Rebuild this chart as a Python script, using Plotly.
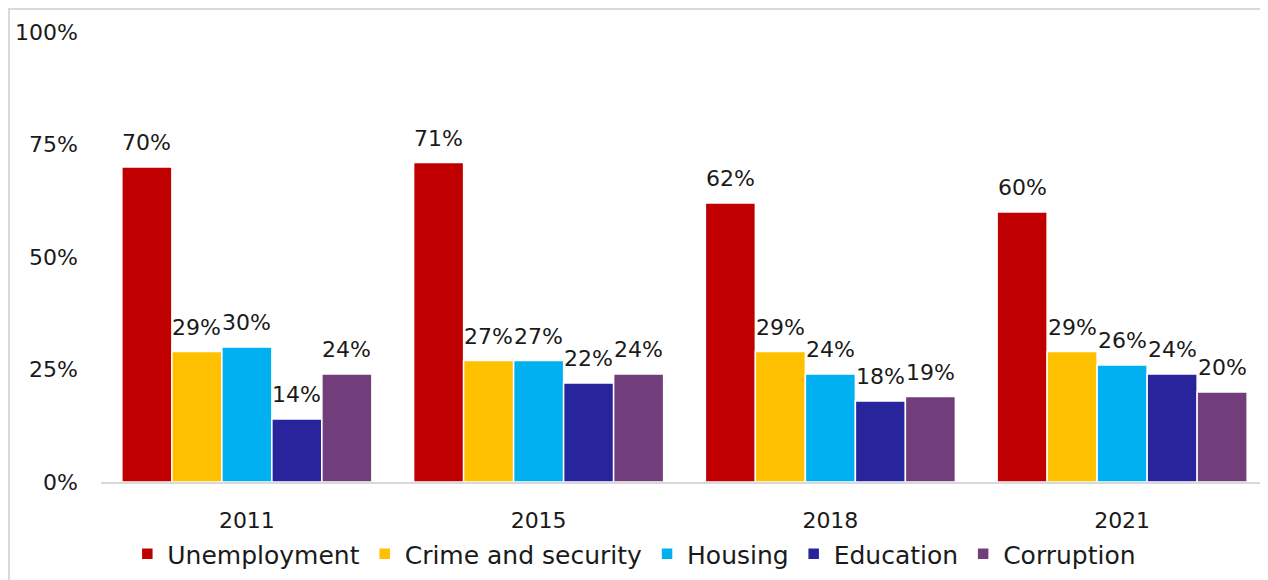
import plotly.graph_objects as go

years = ["2011", "2015", "2018", "2021"]
series_names = ["Unemployment", "Crime and security", "Housing", "Education", "Corruption"]
unemployment = [0.70, 0.71, 0.62, 0.60]
crime = [0.29, 0.27, 0.29, 0.29]
housing = [0.30, 0.27, 0.24, 0.26]
education = [0.14, 0.22, 0.18, 0.24]
corruption = [0.24, 0.24, 0.19, 0.20]
y_ticks = [0, 0.25, 0.5, 0.75, 1.0]
y_tick_labels = ["0%", "25%", "50%", "75%", "100%"]

colors = ["#C00000", "#FFC000", "#00B0F0", "#28249C", "#713E7B"]
values = [unemployment, crime, housing, education, corruption]

# page has an 8px body margin, so the figure is sized/offset to compensate
W, H = 1260, 572
ML, MR, MT, MB = 93, 0, 24, 98
BARGAP = 0.143
FONT = "Century Gothic, DejaVu Sans, sans-serif"
TXT = "#1a1a1a"

fig = go.Figure()
for name, vals, col in zip(series_names, values, colors):
    fig.add_trace(go.Bar(
        name=name, x=years, y=vals,
        marker=dict(color=col, line=dict(color="white", width=1.5)),
        hoverinfo="skip",
    ))

# data labels above bars, placed via data coordinates (category index)
plot_w = W - ML - MR
bar_px = plot_w / len(years) * (1 - BARGAP) / len(series_names)
annotations = []
for i, vals in enumerate(values):
    for j, v in enumerate(vals):
        annotations.append(dict(
            x=j, y=v, xref="x", yref="y",
            text=f"{round(v * 100)}%", showarrow=False,
            xshift=(i - (len(series_names) - 1) / 2) * bar_px,
            yanchor="bottom", yshift=10,
            font=dict(family=FONT, size=22, color=TXT),
        ))

plot_h = H - MT - MB
bx = (1.0 - ML) / plot_w
by = (H - MB - 1.0) / plot_h

fig.update_layout(
    width=W, height=H,
    margin=dict(l=ML, r=MR, t=MT, b=MB),
    paper_bgcolor="white", plot_bgcolor="white",
    barmode="group", bargap=BARGAP, bargroupgap=0,
    font=dict(family=FONT, size=22, color=TXT),
    showlegend=True,
    legend=dict(orientation="h", x=0.457, xanchor="center", y=-0.16, yanchor="middle",
                font=dict(family=FONT, size=25, color=TXT), itemclick=False,
                traceorder="normal", bgcolor="rgba(0,0,0,0)"),
    xaxis=dict(type="category", range=[-0.5, len(years) - 0.5],
               showgrid=False, showline=True, linecolor="#d9d9d9", linewidth=2,
               ticks="", ticklabelstandoff=18, tickfont=dict(size=22, color=TXT),
               fixedrange=True),
    yaxis=dict(range=[0, 1], tickvals=y_ticks, ticktext=y_tick_labels,
               showgrid=False, zeroline=False, showline=False, ticks="",
               ticklabelstandoff=22, tickfont=dict(size=22, color=TXT),
               fixedrange=True),
    annotations=annotations,
    shapes=[dict(type="rect", xref="paper", yref="paper",
                 x0=bx, x1=1.2, y0=-0.6, y1=by,
                 line=dict(color="#d9d9d9", width=2), layer="below")],
)

fig.write_html("out.html", config={"displayModeBar": False})
